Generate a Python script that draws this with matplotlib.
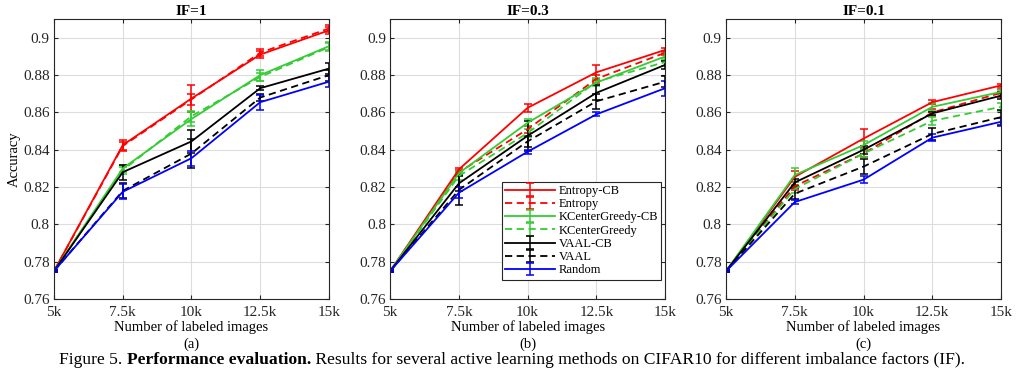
import numpy as np
import matplotlib.pyplot as plt

# x axis: number of labeled images
x_labels = ['5k', '7.5k', '10k', '12.5k', '15k']
x_vals = [5, 7.5, 10, 12.5, 15]

methods = ['Entropy-CB', 'Entropy', 'KCenterGreedy-CB', 'KCenterGreedy',
           'VAAL-CB', 'VAAL', 'Random']
colors = ['#ff0000', '#ff0000', '#33cc33', '#33cc33', '#000000', '#000000', '#0000ff']
styles = ['-', (0, (4, 2.5)), '-', (0, (4, 2.5)), '-', (0, (4, 2.5)), '-']

titles = ['IF=1', 'IF=0.3', 'IF=0.1']
sub_labels = ['(a)', '(b)', '(c)']

# mean accuracy per method, one list per panel
acc_if1 = [
    [0.775, 0.8425, 0.8675, 0.891, 0.904],
    [0.775, 0.842, 0.867, 0.892, 0.905],
    [0.775, 0.830, 0.8565, 0.880, 0.8955],
    [0.775, 0.829, 0.858, 0.879, 0.895],
    [0.775, 0.828, 0.8445, 0.873, 0.8835],
    [0.775, 0.818, 0.838, 0.868, 0.880],
    [0.775, 0.8175, 0.8355, 0.8655, 0.8765],
]
err_if1 = [
    [0.0005, 0.003, 0.007, 0.002, 0.002],
    [0.0005, 0.002, 0.003, 0.002, 0.002],
    [0.0005, 0.002, 0.004, 0.003, 0.002],
    [0.0005, 0.002, 0.003, 0.002, 0.002],
    [0.0005, 0.004, 0.006, 0.001, 0.003],
    [0.0005, 0.004, 0.008, 0.002, 0.003],
    [0.0005, 0.004, 0.004, 0.004, 0.003],
]

acc_if03 = [
    [0.775, 0.8295, 0.8625, 0.8815, 0.8935],
    [0.775, 0.828, 0.851, 0.878, 0.892],
    [0.775, 0.8275, 0.8545, 0.876, 0.890],
    [0.775, 0.826, 0.849, 0.8765, 0.887],
    [0.775, 0.822, 0.8475, 0.8705, 0.8855],
    [0.775, 0.8185, 0.8445, 0.866, 0.8765],
    [0.775, 0.817, 0.839, 0.859, 0.873],
]
err_if03 = [
    [0.0005, 0.001, 0.002, 0.004, 0.001],
    [0.0005, 0.001, 0.002, 0.002, 0.001],
    [0.0005, 0.001, 0.002, 0.002, 0.002],
    [0.0005, 0.002, 0.002, 0.002, 0.002],
    [0.0005, 0.004, 0.008, 0.004, 0.002],
    [0.0005, 0.008, 0.003, 0.004, 0.003],
    [0.0005, 0.003, 0.001, 0.001, 0.004],
]

acc_if01 = [
    [0.775, 0.8255, 0.846, 0.8655, 0.8745],
    [0.775, 0.8205, 0.838, 0.860, 0.8705],
    [0.775, 0.8265, 0.8425, 0.863, 0.871],
    [0.775, 0.819, 0.838, 0.8555, 0.863],
    [0.775, 0.8225, 0.840, 0.8595, 0.869],
    [0.775, 0.8165, 0.831, 0.8485, 0.8575],
    [0.775, 0.812, 0.824, 0.8465, 0.855],
]
err_if01 = [
    [0.0005, 0.003, 0.005, 0.001, 0.001],
    [0.0005, 0.002, 0.002, 0.002, 0.002],
    [0.0005, 0.004, 0.002, 0.002, 0.001],
    [0.0005, 0.002, 0.002, 0.002, 0.002],
    [0.0005, 0.002, 0.002, 0.001, 0.002],
    [0.0005, 0.003, 0.004, 0.003, 0.004],
    [0.0005, 0.001, 0.002, 0.002, 0.002],
]

panels = [(acc_if1, err_if1), (acc_if03, err_if03), (acc_if01, err_if01)]

plt.rcParams['font.family'] = ['Liberation Serif', 'DejaVu Serif']

fig = plt.figure(figsize=(10.24, 3.9), dpi=100)
lefts = [0.0527, 0.381, 0.709]
axes = [fig.add_axes([l, 0.233, 0.2686, 0.718]) for l in lefts]

for i, ax in enumerate(axes):
    accs, errs = panels[i]
    for k, name in enumerate(methods):
        ax.errorbar(x_vals, accs[k], yerr=errs[k], color=colors[k],
                    linestyle=styles[k], linewidth=1.3, elinewidth=1.1,
                    capsize=3, capthick=1.1, label=name)
    ax.set_xlim(5, 15)
    ax.set_ylim(0.76, 0.91)
    ax.set_xticks(x_vals)
    ax.set_xticklabels(x_labels)
    ax.set_yticks([0.76, 0.78, 0.8, 0.82, 0.84, 0.86, 0.88, 0.9])
    ax.set_yticklabels(['0.76', '0.78', '0.8', '0.82', '0.84', '0.86', '0.88', '0.9'])
    ax.grid(True, color='#dddddd', linewidth=0.8)
    ax.set_axisbelow(True)
    ax.tick_params(direction='in', top=True, right=True, labelsize=11,
                   colors='#262626', length=3)
    ax.tick_params(axis='x', pad=5)
    ax.tick_params(axis='y', pad=3)
    for s in ax.spines.values():
        s.set_color('#262626')
        s.set_linewidth(0.8)
    ax.set_title(titles[i], fontsize=11, fontweight='bold', pad=3)
    ax.set_xlabel('Number of labeled images', fontsize=10.5, labelpad=1)
    ax.text(0.5, -0.16, sub_labels[i], transform=ax.transAxes,
            ha='center', va='center', fontsize=10.5)

axes[0].set_ylabel('Accuracy', fontsize=10.5, labelpad=2)

leg = axes[1].legend(loc='lower right', fontsize=9, frameon=True,
                     fancybox=False, framealpha=1, edgecolor='#262626',
                     borderpad=0.25, labelspacing=0.1, handlelength=4.0,
                     handletextpad=0.3, borderaxespad=0, bbox_to_anchor=(0.985, 0.07))
leg.get_frame().set_linewidth(0.8)

# caption: plain / bold / plain pieces laid end to end
parts = [('Figure 5. ', 'normal'), ('Performance evaluation.', 'bold'),
         (' Results for several active learning methods on CIFAR10 for '
          'different imbalance factors (IF).', 'normal')]
fig.canvas.draw()
renderer = fig.canvas.get_renderer()
pieces = [fig.text(0, 0.066, t, fontsize=12.6, fontweight=w, va='baseline')
          for t, w in parts]
widths = [p.get_window_extent(renderer).width for p in pieces]
x0 = (fig.bbox.width - sum(widths)) / 2
for p, w in zip(pieces, widths):
    p.set_x(x0 / fig.bbox.width)
    x0 += w

fig.savefig('out.png', dpi=100)
